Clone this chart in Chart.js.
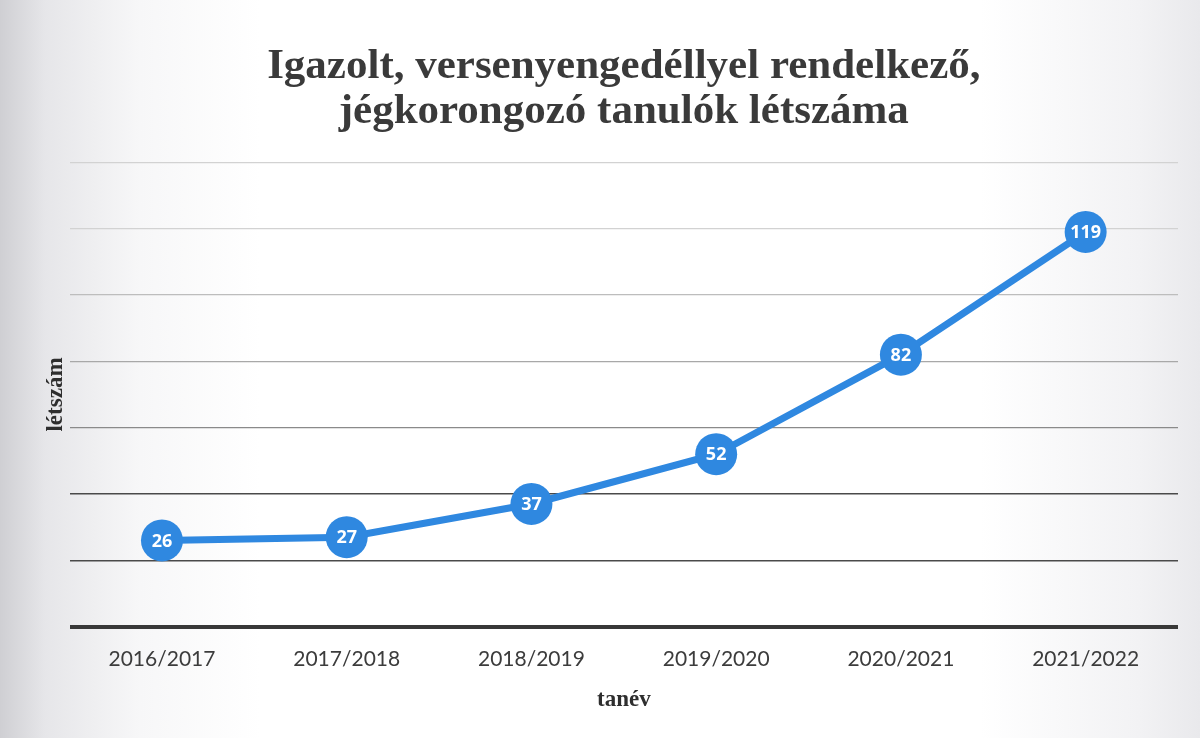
<!DOCTYPE html>
<html lang="hu">
<head>
<meta charset="utf-8">
<title>Igazolt, versenyengedéllyel rendelkező, jégkorongozó tanulók létszáma</title>
<script src="https://cdn.jsdelivr.net/npm/chart.js@4"></script>
<style>
  html, body { margin: 0; padding: 0; }
  body {
    width: 1200px; height: 738px; overflow: hidden;
    background: linear-gradient(to right, #cfcfd3 0px, #e6e6e9 45px, #f7f7f8 140px, #ffffff 260px, #ffffff 980px, #f2f2f4 1140px, #e9e9ec 1200px);
  }
  canvas { display: block; }
</style>
</head>
<body>
<canvas id="chart" width="1200" height="738"></canvas>
<script>
// tanévek és létszámok (a beolvasott ábráról)
const SCHOOL_YEARS = ['2016/2017', '2017/2018', '2018/2019', '2019/2020', '2020/2021', '2021/2022'];
const STUDENTS = [26, 27, 37, 52, 82, 119];

const Y_MAX = 140;
const Y_STEP = 20;

const BLUE = '#2f88e0';

// a szkennelt képen lefelé egyre sötétebbek a rácsvonalak
function gridColor(value) {
  if (value === 0) return '#383838';
  if (value <= 40) return '#4a4a4a';
  if (value <= 60) return '#8a8a8a';
  if (value <= 80) return '#a8a8a8';
  if (value <= 100) return '#bdbdbd';
  return '#d2d2d2';
}

// értékcímkék a pontok közepére
const pointLabels = {
  id: 'pointLabels',
  afterDatasetsDraw(chart) {
    const { ctx } = chart;
    const meta = chart.getDatasetMeta(0);
    ctx.save();
    ctx.fillStyle = '#ffffff';
    ctx.font = 'bold 18px "Open Sans", sans-serif';
    ctx.textAlign = 'center';
    ctx.textBaseline = 'middle';
    meta.data.forEach((pt, i) => {
      ctx.fillText(String(STUDENTS[i]), pt.x, pt.y + 1);
    });
    ctx.restore();
  },
};

const ctx = document.getElementById('chart').getContext('2d');
new Chart(ctx, {
  type: 'line',
  data: {
    labels: SCHOOL_YEARS,
    datasets: [{
      label: 'létszám',
      data: STUDENTS,
      borderColor: BLUE,
      backgroundColor: BLUE,
      borderWidth: 7,
      pointRadius: 21,
      pointHoverRadius: 21,
      pointBackgroundColor: BLUE,
      pointBorderWidth: 0,
      tension: 0,
    }],
  },
  options: {
    responsive: false,
    animation: false,
    layout: { padding: { top: 0, left: 30, right: 22, bottom: 28 } },
    plugins: {
      legend: { display: false },
      tooltip: { enabled: false },
      title: {
        display: true,
        fullSize: false,
        text: ['Igazolt, versenyengedéllyel rendelkező,', 'jégkorongozó tanulók létszáma'],
        color: '#3a3a3a',
        font: { family: '"Liberation Serif", "Times New Roman", serif', size: 43, weight: 'bold', lineHeight: 1.05 },
        padding: { top: 44, bottom: 28 },
      },
    },
    scales: {
      x: {
        offset: true,
        grid: { display: false, drawTicks: false },
        border: { display: false },
        ticks: {
          color: '#3c3c3c',
          padding: 20,
          font: { family: 'Lato, "Open Sans", sans-serif', size: 21 },
        },
        title: {
          display: true,
          text: 'tanév',
          color: '#2e2e2e',
          padding: { top: 0, bottom: 2 },
          font: { family: '"Liberation Serif", serif', size: 23, weight: 'bold', lineHeight: 0.7 },
        },
      },
      y: {
        min: 0,
        max: Y_MAX,
        ticks: { display: false, stepSize: Y_STEP },
        border: { display: false },
        grid: {
          drawTicks: false,
          color: c => gridColor(c.tick.value),
          lineWidth: c => (c.tick.value === 0 ? 4 : (c.tick.value <= 40 ? 1.6 : 1.2)),
        },
        title: {
          display: true,
          text: 'létszám',
          color: '#2e2e2e',
          padding: { top: 12, bottom: 0 },
          font: { family: '"Liberation Serif", serif', size: 23, weight: 'bold' },
        },
      },
    },
  },
  plugins: [pointLabels],
});
</script>
</body>
</html>
